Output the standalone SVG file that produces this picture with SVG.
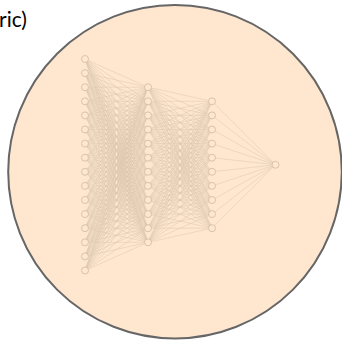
<svg xmlns="http://www.w3.org/2000/svg" width="342" height="343" viewBox="0 0 342 343">
<style>
.bg{fill:#fee6cf;stroke:#666;stroke-width:2}
.e{fill:none;stroke:#dac7ae;stroke-width:0.5}
.n{fill:#fee6cf;stroke:#d2bfa6;stroke-width:0.9}
.t{font-family:Lato,"Open Sans",sans-serif;font-size:21px;fill:#000}
</style>
<rect width="342" height="343" fill="#fff"/>
<text class="t" x="-1" y="27">ric)</text>
<circle id="boundary" class="bg" cx="175" cy="171.7" r="166.8"/>
<g id="connectors">
<path class="e" d="M85 59L148 87.2M85 73.1L148 87.2M85 87.2L148 87.2M85 101.3L148 87.2M85 115.4L148 87.2M85 129.5L148 87.2M85 143.6L148 87.2M85 157.7L148 87.2M85 171.8L148 87.2M85 185.9L148 87.2M85 200L148 87.2M85 214.1L148 87.2M85 228.2L148 87.2M85 242.3L148 87.2M85 256.4L148 87.2M85 270.5L148 87.2"/>
<path class="e" d="M85 59L148 101.3M85 73.1L148 101.3M85 87.2L148 101.3M85 101.3L148 101.3M85 115.4L148 101.3M85 129.5L148 101.3M85 143.6L148 101.3M85 157.7L148 101.3M85 171.8L148 101.3M85 185.9L148 101.3M85 200L148 101.3M85 214.1L148 101.3M85 228.2L148 101.3M85 242.3L148 101.3M85 256.4L148 101.3M85 270.5L148 101.3"/>
<path class="e" d="M85 59L148 115.4M85 73.1L148 115.4M85 87.2L148 115.4M85 101.3L148 115.4M85 115.4L148 115.4M85 129.5L148 115.4M85 143.6L148 115.4M85 157.7L148 115.4M85 171.8L148 115.4M85 185.9L148 115.4M85 200L148 115.4M85 214.1L148 115.4M85 228.2L148 115.4M85 242.3L148 115.4M85 256.4L148 115.4M85 270.5L148 115.4"/>
<path class="e" d="M85 59L148 129.5M85 73.1L148 129.5M85 87.2L148 129.5M85 101.3L148 129.5M85 115.4L148 129.5M85 129.5L148 129.5M85 143.6L148 129.5M85 157.7L148 129.5M85 171.8L148 129.5M85 185.9L148 129.5M85 200L148 129.5M85 214.1L148 129.5M85 228.2L148 129.5M85 242.3L148 129.5M85 256.4L148 129.5M85 270.5L148 129.5"/>
<path class="e" d="M85 59L148 143.6M85 73.1L148 143.6M85 87.2L148 143.6M85 101.3L148 143.6M85 115.4L148 143.6M85 129.5L148 143.6M85 143.6L148 143.6M85 157.7L148 143.6M85 171.8L148 143.6M85 185.9L148 143.6M85 200L148 143.6M85 214.1L148 143.6M85 228.2L148 143.6M85 242.3L148 143.6M85 256.4L148 143.6M85 270.5L148 143.6"/>
<path class="e" d="M85 59L148 157.7M85 73.1L148 157.7M85 87.2L148 157.7M85 101.3L148 157.7M85 115.4L148 157.7M85 129.5L148 157.7M85 143.6L148 157.7M85 157.7L148 157.7M85 171.8L148 157.7M85 185.9L148 157.7M85 200L148 157.7M85 214.1L148 157.7M85 228.2L148 157.7M85 242.3L148 157.7M85 256.4L148 157.7M85 270.5L148 157.7"/>
<path class="e" d="M85 59L148 171.8M85 73.1L148 171.8M85 87.2L148 171.8M85 101.3L148 171.8M85 115.4L148 171.8M85 129.5L148 171.8M85 143.6L148 171.8M85 157.7L148 171.8M85 171.8L148 171.8M85 185.9L148 171.8M85 200L148 171.8M85 214.1L148 171.8M85 228.2L148 171.8M85 242.3L148 171.8M85 256.4L148 171.8M85 270.5L148 171.8"/>
<path class="e" d="M85 59L148 185.9M85 73.1L148 185.9M85 87.2L148 185.9M85 101.3L148 185.9M85 115.4L148 185.9M85 129.5L148 185.9M85 143.6L148 185.9M85 157.7L148 185.9M85 171.8L148 185.9M85 185.9L148 185.9M85 200L148 185.9M85 214.1L148 185.9M85 228.2L148 185.9M85 242.3L148 185.9M85 256.4L148 185.9M85 270.5L148 185.9"/>
<path class="e" d="M85 59L148 200M85 73.1L148 200M85 87.2L148 200M85 101.3L148 200M85 115.4L148 200M85 129.5L148 200M85 143.6L148 200M85 157.7L148 200M85 171.8L148 200M85 185.9L148 200M85 200L148 200M85 214.1L148 200M85 228.2L148 200M85 242.3L148 200M85 256.4L148 200M85 270.5L148 200"/>
<path class="e" d="M85 59L148 214.1M85 73.1L148 214.1M85 87.2L148 214.1M85 101.3L148 214.1M85 115.4L148 214.1M85 129.5L148 214.1M85 143.6L148 214.1M85 157.7L148 214.1M85 171.8L148 214.1M85 185.9L148 214.1M85 200L148 214.1M85 214.1L148 214.1M85 228.2L148 214.1M85 242.3L148 214.1M85 256.4L148 214.1M85 270.5L148 214.1"/>
<path class="e" d="M85 59L148 228.2M85 73.1L148 228.2M85 87.2L148 228.2M85 101.3L148 228.2M85 115.4L148 228.2M85 129.5L148 228.2M85 143.6L148 228.2M85 157.7L148 228.2M85 171.8L148 228.2M85 185.9L148 228.2M85 200L148 228.2M85 214.1L148 228.2M85 228.2L148 228.2M85 242.3L148 228.2M85 256.4L148 228.2M85 270.5L148 228.2"/>
<path class="e" d="M85 59L148 242.3M85 73.1L148 242.3M85 87.2L148 242.3M85 101.3L148 242.3M85 115.4L148 242.3M85 129.5L148 242.3M85 143.6L148 242.3M85 157.7L148 242.3M85 171.8L148 242.3M85 185.9L148 242.3M85 200L148 242.3M85 214.1L148 242.3M85 228.2L148 242.3M85 242.3L148 242.3M85 256.4L148 242.3M85 270.5L148 242.3"/>
<path class="e" d="M148 87.2L212 101.3M148 101.3L212 101.3M148 115.4L212 101.3M148 129.5L212 101.3M148 143.6L212 101.3M148 157.7L212 101.3M148 171.8L212 101.3M148 185.9L212 101.3M148 200L212 101.3M148 214.1L212 101.3M148 228.2L212 101.3M148 242.3L212 101.3"/>
<path class="e" d="M148 87.2L212 115.4M148 101.3L212 115.4M148 115.4L212 115.4M148 129.5L212 115.4M148 143.6L212 115.4M148 157.7L212 115.4M148 171.8L212 115.4M148 185.9L212 115.4M148 200L212 115.4M148 214.1L212 115.4M148 228.2L212 115.4M148 242.3L212 115.4"/>
<path class="e" d="M148 87.2L212 129.5M148 101.3L212 129.5M148 115.4L212 129.5M148 129.5L212 129.5M148 143.6L212 129.5M148 157.7L212 129.5M148 171.8L212 129.5M148 185.9L212 129.5M148 200L212 129.5M148 214.1L212 129.5M148 228.2L212 129.5M148 242.3L212 129.5"/>
<path class="e" d="M148 87.2L212 143.6M148 101.3L212 143.6M148 115.4L212 143.6M148 129.5L212 143.6M148 143.6L212 143.6M148 157.7L212 143.6M148 171.8L212 143.6M148 185.9L212 143.6M148 200L212 143.6M148 214.1L212 143.6M148 228.2L212 143.6M148 242.3L212 143.6"/>
<path class="e" d="M148 87.2L212 157.7M148 101.3L212 157.7M148 115.4L212 157.7M148 129.5L212 157.7M148 143.6L212 157.7M148 157.7L212 157.7M148 171.8L212 157.7M148 185.9L212 157.7M148 200L212 157.7M148 214.1L212 157.7M148 228.2L212 157.7M148 242.3L212 157.7"/>
<path class="e" d="M148 87.2L212 171.8M148 101.3L212 171.8M148 115.4L212 171.8M148 129.5L212 171.8M148 143.6L212 171.8M148 157.7L212 171.8M148 171.8L212 171.8M148 185.9L212 171.8M148 200L212 171.8M148 214.1L212 171.8M148 228.2L212 171.8M148 242.3L212 171.8"/>
<path class="e" d="M148 87.2L212 185.9M148 101.3L212 185.9M148 115.4L212 185.9M148 129.5L212 185.9M148 143.6L212 185.9M148 157.7L212 185.9M148 171.8L212 185.9M148 185.9L212 185.9M148 200L212 185.9M148 214.1L212 185.9M148 228.2L212 185.9M148 242.3L212 185.9"/>
<path class="e" d="M148 87.2L212 200M148 101.3L212 200M148 115.4L212 200M148 129.5L212 200M148 143.6L212 200M148 157.7L212 200M148 171.8L212 200M148 185.9L212 200M148 200L212 200M148 214.1L212 200M148 228.2L212 200M148 242.3L212 200"/>
<path class="e" d="M148 87.2L212 214.1M148 101.3L212 214.1M148 115.4L212 214.1M148 129.5L212 214.1M148 143.6L212 214.1M148 157.7L212 214.1M148 171.8L212 214.1M148 185.9L212 214.1M148 200L212 214.1M148 214.1L212 214.1M148 228.2L212 214.1M148 242.3L212 214.1"/>
<path class="e" d="M148 87.2L212 228.2M148 101.3L212 228.2M148 115.4L212 228.2M148 129.5L212 228.2M148 143.6L212 228.2M148 157.7L212 228.2M148 171.8L212 228.2M148 185.9L212 228.2M148 200L212 228.2M148 214.1L212 228.2M148 228.2L212 228.2M148 242.3L212 228.2"/>
<path class="e" d="M212 101.3L275.5 164.75M212 115.4L275.5 164.75M212 129.5L275.5 164.75M212 143.6L275.5 164.75M212 157.7L275.5 164.75M212 171.8L275.5 164.75M212 185.9L275.5 164.75M212 200L275.5 164.75M212 214.1L275.5 164.75M212 228.2L275.5 164.75"/>
</g>
<g id="layer-input">
<circle id="i1" class="n" cx="85" cy="59" r="3.5"/>
<circle id="i2" class="n" cx="85" cy="73.1" r="3.5"/>
<circle id="i3" class="n" cx="85" cy="87.2" r="3.5"/>
<circle id="i4" class="n" cx="85" cy="101.3" r="3.5"/>
<circle id="i5" class="n" cx="85" cy="115.4" r="3.5"/>
<circle id="i6" class="n" cx="85" cy="129.5" r="3.5"/>
<circle id="i7" class="n" cx="85" cy="143.6" r="3.5"/>
<circle id="i8" class="n" cx="85" cy="157.7" r="3.5"/>
<circle id="i9" class="n" cx="85" cy="171.8" r="3.5"/>
<circle id="i10" class="n" cx="85" cy="185.9" r="3.5"/>
<circle id="i11" class="n" cx="85" cy="200" r="3.5"/>
<circle id="i12" class="n" cx="85" cy="214.1" r="3.5"/>
<circle id="i13" class="n" cx="85" cy="228.2" r="3.5"/>
<circle id="i14" class="n" cx="85" cy="242.3" r="3.5"/>
<circle id="i15" class="n" cx="85" cy="256.4" r="3.5"/>
<circle id="i16" class="n" cx="85" cy="270.5" r="3.5"/>
</g>
<g id="layer-hidden1">
<circle id="h1" class="n" cx="148" cy="87.2" r="3.5"/>
<circle id="h2" class="n" cx="148" cy="101.3" r="3.5"/>
<circle id="h3" class="n" cx="148" cy="115.4" r="3.5"/>
<circle id="h4" class="n" cx="148" cy="129.5" r="3.5"/>
<circle id="h5" class="n" cx="148" cy="143.6" r="3.5"/>
<circle id="h6" class="n" cx="148" cy="157.7" r="3.5"/>
<circle id="h7" class="n" cx="148" cy="171.8" r="3.5"/>
<circle id="h8" class="n" cx="148" cy="185.9" r="3.5"/>
<circle id="h9" class="n" cx="148" cy="200" r="3.5"/>
<circle id="h10" class="n" cx="148" cy="214.1" r="3.5"/>
<circle id="h11" class="n" cx="148" cy="228.2" r="3.5"/>
<circle id="h12" class="n" cx="148" cy="242.3" r="3.5"/>
</g>
<g id="layer-hidden2">
<circle id="g1" class="n" cx="212" cy="101.3" r="3.5"/>
<circle id="g2" class="n" cx="212" cy="115.4" r="3.5"/>
<circle id="g3" class="n" cx="212" cy="129.5" r="3.5"/>
<circle id="g4" class="n" cx="212" cy="143.6" r="3.5"/>
<circle id="g5" class="n" cx="212" cy="157.7" r="3.5"/>
<circle id="g6" class="n" cx="212" cy="171.8" r="3.5"/>
<circle id="g7" class="n" cx="212" cy="185.9" r="3.5"/>
<circle id="g8" class="n" cx="212" cy="200" r="3.5"/>
<circle id="g9" class="n" cx="212" cy="214.1" r="3.5"/>
<circle id="g10" class="n" cx="212" cy="228.2" r="3.5"/>
</g>
<g id="layer-output">
<circle id="o1" class="n" cx="275.5" cy="164.75" r="3.5"/>
</g>
</svg>
